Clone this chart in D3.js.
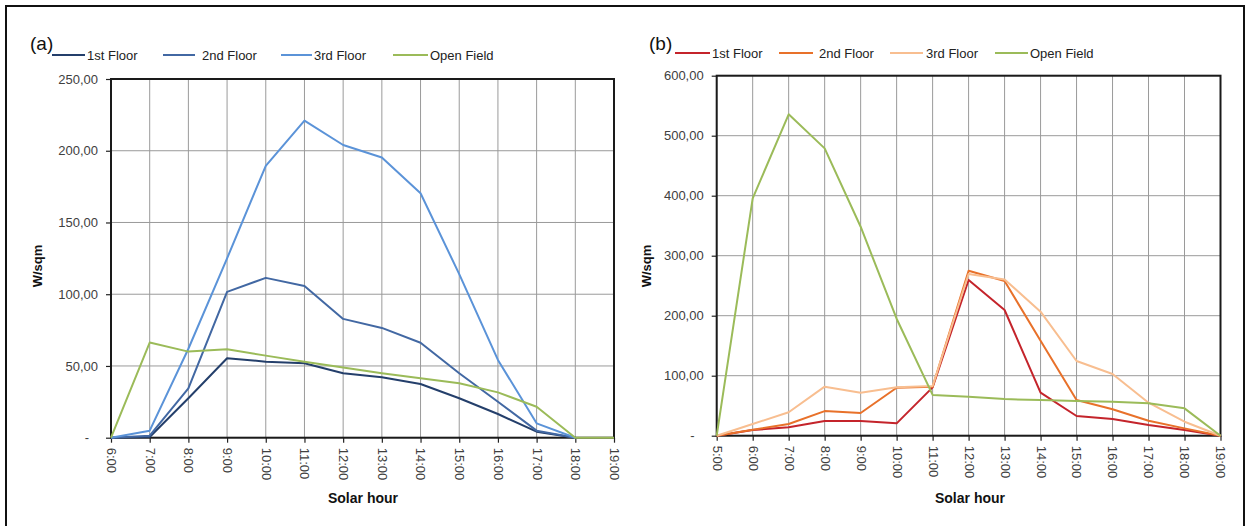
<!DOCTYPE html>
<html>
<head>
<meta charset="utf-8">
<script src="https://cdn.jsdelivr.net/npm/d3@7/dist/d3.min.js"></script>
<style>
  html, body { margin: 0; padding: 0; background: #fff; }
  svg { display: block; font-family: "Liberation Sans", Arial, sans-serif; }
</style>
</head>
<body>
<svg id="chart" width="1250" height="526"></svg>
<script>
// Panel (a): solar hours and irradiance per floor
const hoursA = ["6:00","7:00","8:00","9:00","10:00","11:00","12:00","13:00","14:00","15:00","16:00","17:00","18:00","19:00"];
const a1stFloor  = [0, 0.5, 27.5, 55.4, 53, 51.9, 44.9, 42.1, 37.4, 27.5, 16.5, 4.2, 0];
const a2ndFloor  = [0, 1.4, 34.4, 101.6, 111.4, 105.8, 82.8, 76.5, 66.2, 44.9, 25.1, 4.9, 0];
const a3rdFloor  = [0, 4.9, 62, 125, 189.5, 221, 204, 195.3, 170.4, 114, 54.2, 10, 0];
const aOpenField = [0, 66.3, 60, 61.6, 57.2, 53, 49, 44.9, 41.4, 37.9, 31.6, 21.6, 0, 0];
const ticksA = [0, 50, 100, 150, 200, 250];

// Panel (b)
const hoursB = ["5:00","6:00","7:00","8:00","9:00","10:00","11:00","12:00","13:00","14:00","15:00","16:00","17:00","18:00","19:00"];
const b1stFloor  = [0, 9.5, 14, 24.5, 24.5, 20.6, 80.6, 259.5, 209.5, 71.7, 32.8, 27.8, 17.8, 9.5, 0];
const b2ndFloor  = [0, 10, 19.5, 41, 37.8, 80, 81.7, 275, 257.8, 158.3, 59.5, 44, 25, 12.2, 0];
const b3rdFloor  = [0, 19.5, 39, 81.7, 71.7, 80.6, 82.8, 269.5, 260.5, 206.7, 124.5, 102.8, 55, 23.3, 0];
const bOpenField = [0, 395.6, 535.6, 478.9, 348.3, 195, 68, 65, 61, 59.5, 57.8, 56.7, 54, 45.6, 0];
const ticksB = [0, 100, 200, 300, 400, 500, 600];

const seriesNames = ["1st Floor", "2nd Floor", "3rd Floor", "Open Field"];

const svg = d3.select("#chart");

// outer frame
svg.append("path")
  .attr("d", "M6,526 V6 H1244 V526")
  .attr("fill", "none").attr("stroke", "#111").attr("stroke-width", 2);

const fmt = v => v === 0 ? "-" : d3.format(".2f")(v).replace(".", ",");

function panel(cfg) {
  const { hours, series, colors, ticks, yMax, x0, x1, yTop, yBottom, tag, tagX, legend, titleX, yTitleX } = cfg;
  const g = svg.append("g");
  const x = d3.scalePoint().domain(hours).range([x0, x1]);
  const y = d3.scaleLinear().domain([0, yMax]).range([yBottom, yTop]);

  // gridlines
  g.append("g").selectAll("line.v").data(hours).join("line")
    .attr("x1", d => x(d)).attr("x2", d => x(d))
    .attr("y1", yTop).attr("y2", yBottom)
    .attr("stroke", "#9a9a9a").attr("stroke-width", 1);
  g.append("g").selectAll("line.h").data(ticks).join("line")
    .attr("x1", x0).attr("x2", x1)
    .attr("y1", d => y(d)).attr("y2", d => y(d))
    .attr("stroke", "#9a9a9a").attr("stroke-width", 1);

  // axes
  const yAxis = d3.axisLeft(y).tickValues(ticks).tickSize(5).tickPadding(8).tickFormat(fmt);
  const gy = g.append("g").attr("transform", `translate(${x0},0)`).call(yAxis);
  gy.select(".domain").remove();
  gy.selectAll(".tick line").attr("stroke", "#222").attr("stroke-width", 1.2);
  gy.selectAll(".tick text")
    .attr("fill", "#404040").attr("font-size", 13)
    .attr("dx", d => d === 0 ? -9 : 0);

  const xAxis = d3.axisBottom(x).tickSize(5).tickPadding(0);
  const gx = g.append("g").attr("transform", `translate(0,${yBottom})`).call(xAxis);
  gx.select(".domain").remove();
  gx.selectAll(".tick line").attr("stroke", "#222").attr("stroke-width", 1.2);
  gx.selectAll(".tick text")
    .attr("fill", "#404040").attr("font-size", 13)
    .attr("transform", "translate(0,10) rotate(90)")
    .attr("x", 0).attr("y", 0).attr("dy", "0.35em")
    .attr("text-anchor", "start");

  // plot frame
  g.append("rect")
    .attr("x", x0).attr("y", yTop).attr("width", x1 - x0).attr("height", yBottom - yTop)
    .attr("fill", "none").attr("stroke", "#1a1a1a").attr("stroke-width", 2);

  // series lines
  const line = d3.line().x((d, i) => x(hours[i])).y(d => y(d));
  series.forEach((s, k) => {
    g.append("path").datum(s)
      .attr("d", line)
      .attr("fill", "none").attr("stroke", colors[k])
      .attr("stroke-width", 2).attr("stroke-linejoin", "round");
  });

  // legend
  const lg = g.append("g");
  seriesNames.forEach((n, k) => {
    const L = legend[k];
    lg.append("line")
      .attr("x1", L[0]).attr("x2", L[1]).attr("y1", legend.y).attr("y2", legend.y)
      .attr("stroke", colors[k]).attr("stroke-width", 2);
    lg.append("text")
      .attr("x", L[2]).attr("y", legend.y).attr("dy", "0.35em")
      .attr("font-size", 13).attr("fill", "#222").text(n);
  });

  // tag
  g.append("text").attr("x", tagX).attr("y", 43).attr("dy", "0.35em")
    .attr("font-size", 19).attr("fill", "#111").text(tag);

  // axis titles
  g.append("text").attr("x", titleX).attr("y", 498).attr("dy", "0.35em")
    .attr("text-anchor", "middle").attr("font-size", 14).attr("font-weight", "bold")
    .attr("fill", "#111").text("Solar hour");
  g.append("text")
    .attr("transform", `translate(${yTitleX},266) rotate(-90)`)
    .attr("dy", "0.35em").attr("text-anchor", "middle")
    .attr("font-size", 13).attr("font-weight", "bold").attr("fill", "#111").text("W/sqm");
}

const legA = [[52, 85, 87], [163, 195, 202], [281, 312, 314], [393, 428, 430]];
legA.y = 55;
panel({
  hours: hoursA, series: [a1stFloor, a2ndFloor, a3rdFloor, aOpenField],
  colors: ["#243f6b", "#4268a3", "#5b93d8", "#9bbb59"],
  ticks: ticksA, yMax: 250, x0: 111, x1: 614, yTop: 79, yBottom: 437.7,
  tag: "(a)", tagX: 30, legend: legA, titleX: 363, yTitleX: 37
});

const legB = [[675, 710, 712], [779, 813, 819], [890, 923, 926], [995, 1028, 1030]];
legB.y = 53;
panel({
  hours: hoursB, series: [b1stFloor, b2ndFloor, b3rdFloor, bOpenField],
  colors: ["#c4242b", "#e8712a", "#f8be90", "#9bbb59"],
  ticks: ticksB, yMax: 600, x0: 716.7, x1: 1220.5, yTop: 75.7, yBottom: 435.7,
  tag: "(b)", tagX: 649, legend: legB, titleX: 970, yTitleX: 646
});
</script>
</body>
</html>
